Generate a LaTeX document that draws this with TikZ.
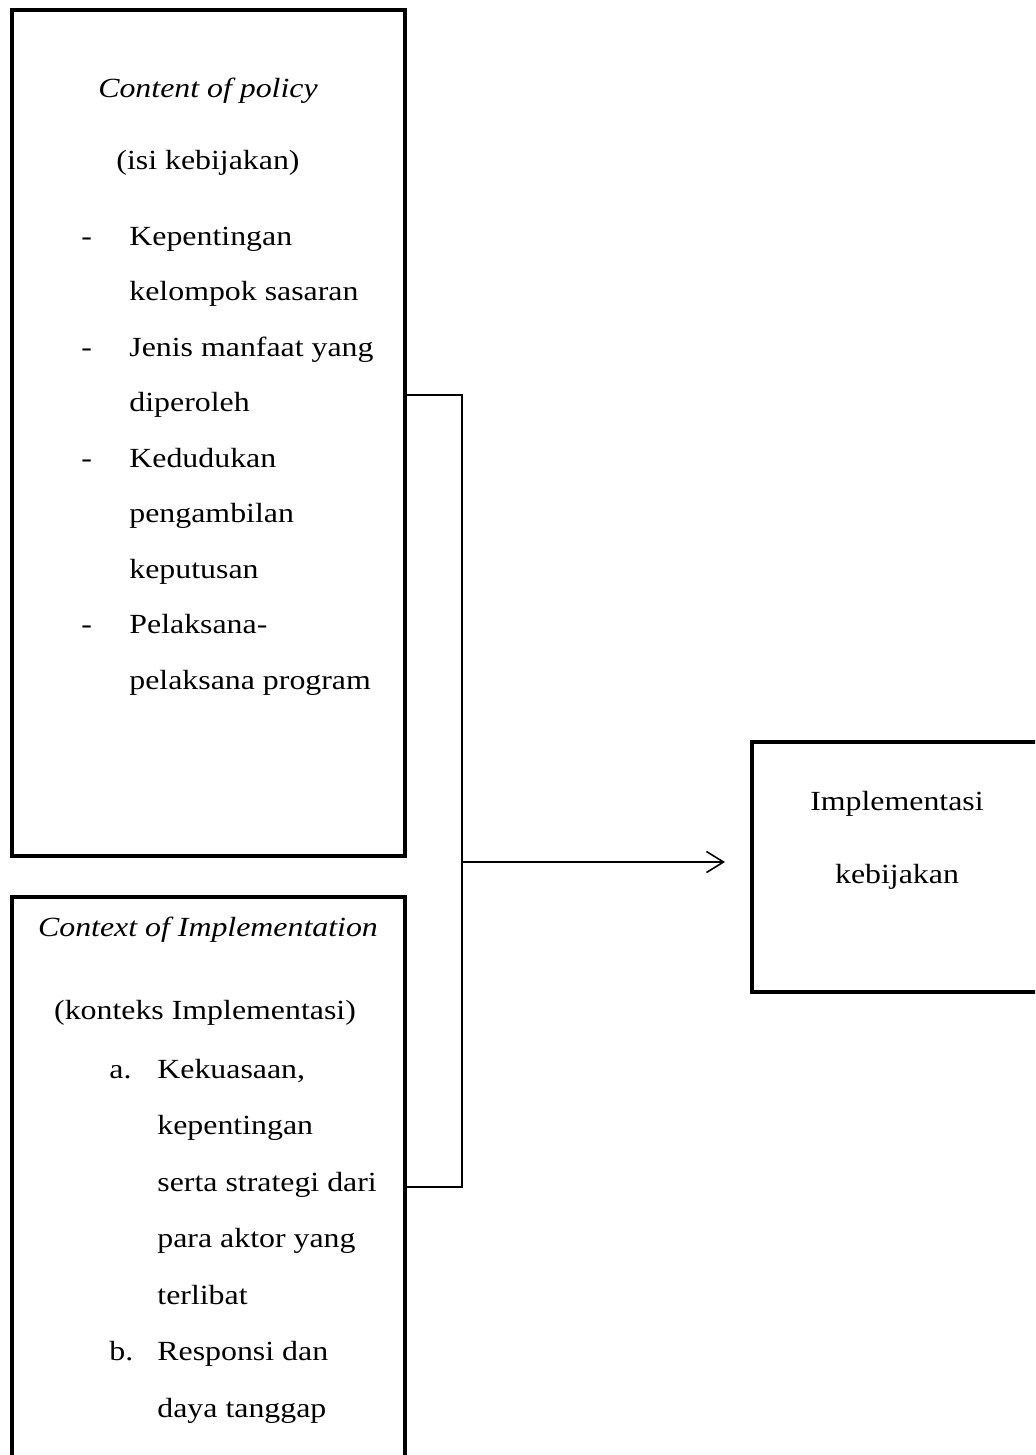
\documentclass[tikz,border=0pt]{standalone}
\usepackage{fontspec}
\setmainfont{Liberation Serif}
\usepackage{graphicx}
\usetikzlibrary{arrows.meta}
\newcommand{\wx}[1]{\scalebox{1.15}[1]{#1}}
\begin{document}
\begin{tikzpicture}[x=0.5pt,y=-0.5pt,
  boxnode/.style={draw, line width=2.2pt, rectangle, inner sep=0pt, outer sep=0pt, anchor=north west},
  txt/.style={inner sep=0pt, font=\fontsize{13.85}{16}\selectfont},
  ctr/.style={txt, anchor=base},
  lft/.style={txt, anchor=base west},
  conn/.style={line width=0.8pt},
  arr/.style={conn, -{Straight Barb[length=8.5pt,width=10.5pt]}},
]
\useasboundingbox (0,0) rectangle (1035,1455);
\clip (0,0) rectangle (1035,1455);
\fill[white] (0,0) rectangle (1035,1455);

% boxes
\node[boxnode, minimum width=196.5pt, minimum height=423pt] (box1) at (12,10) {};
\node[boxnode, minimum width=196.5pt, minimum height=300pt] (box2) at (12,897) {};
\node[boxnode, minimum width=144.5pt, minimum height=125pt] (box3) at (752,742) {};

% box 1 text
\node[ctr] (c1) at (208,98) {\wx{\itshape Content of policy}};
\node[ctr] (c2) at (208,170) {\wx{(isi kebijakan)}};
\node[lft] (d1) at (81,245) {\wx{-}};
\node[lft] (l1) at (129,245) {\wx{Kepentingan}};
\node[lft] (l2) at (129,300.5) {\wx{kelompok sasaran}};
\node[lft] (d2) at (81,356) {\wx{-}};
\node[lft] (l3) at (129,356) {\wx{Jenis manfaat yang}};
\node[lft] (l4) at (129,411.5) {\wx{diperoleh}};
\node[lft] (d3) at (81,467) {\wx{-}};
\node[lft] (l5) at (129,467) {\wx{Kedudukan}};
\node[lft] (l6) at (129,522.5) {\wx{pengambilan}};
\node[lft] (l7) at (129,578) {\wx{keputusan}};
\node[lft] (d4) at (81,633.5) {\wx{-}};
\node[lft] (l8) at (129,633.5) {\wx{Pelaksana-}};
\node[lft] (l9) at (129,689) {\wx{pelaksana program}};

% box 2 text
\node[ctr] (k1) at (208,936) {\wx{\itshape Context of Implementation}};
\node[ctr] (k2) at (205,1019) {\wx{(konteks Implementasi)}};
\node[lft] (ma) at (109,1078) {\wx{a.}};
\node[lft] (m1) at (157,1078) {\wx{Kekuasaan,}};
\node[lft] (m2) at (157,1134.5) {\wx{kepentingan}};
\node[lft] (m3) at (157,1191) {\wx{serta strategi dari}};
\node[lft] (m4) at (157,1247.5) {\wx{para aktor yang}};
\node[lft] (m5) at (157,1304) {\wx{terlibat}};
\node[lft] (mb) at (109,1360.5) {\wx{b.}};
\node[lft] (m6) at (157,1360.5) {\wx{Responsi dan}};
\node[lft] (m7) at (157,1417) {\wx{daya tanggap}};

% box 3 text
\node[ctr] (i1) at (897,810) {\wx{Implementasi}};
\node[ctr] (i2) at (897,883) {\wx{kebijakan}};

% connectors
\coordinate (j1) at (462,395);
\coordinate (j2) at (462,1187);
\coordinate (jm) at (462,862);
\draw[conn] (box1.east |- j1) -- (j1) -- (j2) -- (box2.east |- j2);
\draw[arr] (jm) -- ([xshift=-13.5pt]box3.west |- jm);
\end{tikzpicture}
\end{document}
